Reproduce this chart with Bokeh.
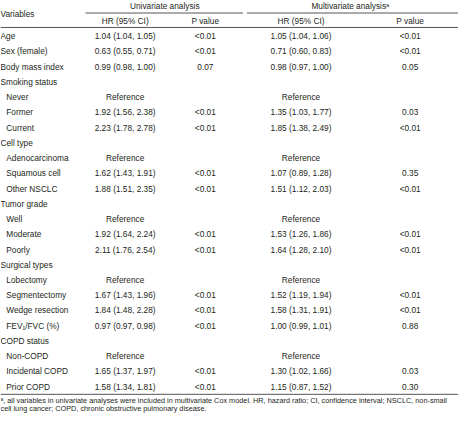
from bokeh.plotting import figure
from bokeh.models import ColumnDataSource
from bokeh.core.properties import value
from bokeh.embed import file_html
from bokeh.resources import INLINE

# ---- table data ----
variables = ["Age", "Sex (female)", "Body mass index", "Smoking status", "Never", "Former", "Current",
             "Cell type", "Adenocarcinoma", "Squamous cell", "Other NSCLC",
             "Tumor grade", "Well", "Moderate", "Poorly",
             "Surgical types", "Lobectomy", "Segmentectomy", "Wedge resection", "FEV\u2081/FVC (%)",
             "COPD status", "Non-COPD", "Incidental COPD", "Prior COPD"]
is_sub = [0, 0, 0, 0, 1, 1, 1,
          0, 1, 1, 1,
          0, 1, 1, 1,
          0, 1, 1, 1, 1,
          0, 1, 1, 1]
uni_hr = ["1.04 (1.04, 1.05)", "0.63 (0.55, 0.71)", "0.99 (0.98, 1.00)", "", "Reference",
          "1.92 (1.56, 2.38)", "2.23 (1.78, 2.78)",
          "", "Reference", "1.62 (1.43, 1.91)", "1.88 (1.51, 2.35)",
          "", "Reference", "1.92 (1.64, 2.24)", "2.11 (1.76, 2.54)",
          "", "Reference", "1.67 (1.43, 1.96)", "1.84 (1.48, 2.28)", "0.97 (0.97, 0.98)",
          "", "Reference", "1.65 (1.37, 1.97)", "1.58 (1.34, 1.81)"]
uni_p = ["<0.01", "<0.01", "0.07", "", "", "<0.01", "<0.01",
         "", "", "<0.01", "<0.01",
         "", "", "<0.01", "<0.01",
         "", "", "<0.01", "<0.01", "<0.01",
         "", "", "<0.01", "<0.01"]
multi_hr = ["1.05 (1.04, 1.06)", "0.71 (0.60, 0.83)", "0.98 (0.97, 1.00)", "", "Reference",
            "1.35 (1.03, 1.77)", "1.85 (1.38, 2.49)",
            "", "Reference", "1.07 (0.89, 1.28)", "1.51 (1.12, 2.03)",
            "", "Reference", "1.53 (1.26, 1.86)", "1.64 (1.28, 2.10)",
            "", "Reference", "1.52 (1.19, 1.94)", "1.58 (1.31, 1.91)", "1.00 (0.99, 1.01)",
            "", "Reference", "1.30 (1.02, 1.66)", "1.15 (0.87, 1.52)"]
multi_p = ["<0.01", "<0.01", "0.05", "", "", "0.03", "<0.01",
           "", "", "0.35", "<0.01",
           "", "", "<0.01", "<0.01",
           "", "", "<0.01", "<0.01", "0.88",
           "", "", "0.03", "0.30"]
group_headers = ["Univariate analysis", "Multivariate analysis\u1d43"]
col_headers = ["HR (95% CI)", "P value", "HR (95% CI)", "P value"]
header_var = "Variables"
footnote = ["\u1d43, all variables in univariate analyses were included in multivariate Cox model. HR, hazard ratio; CI, confidence interval; NSCLC, non-small",
            "cell lung cancer; COPD, chronic obstructive pulmonary disease."]

# ---- layout ----
W, H = 474, 431
FONT = value("Liberation Sans")
TXT = "#231f20"
FS = "8.3px"

p = figure(width=458, height=415, x_range=(0, W), y_range=(H, 0),
           output_backend="svg", toolbar_location=None, min_border=0)
p.axis.visible = False
p.grid.visible = False
p.outline_line_color = None
p.background_fill_color = "white"

y0, dy = 37.0, 15.83
ys = [y0 + i * dy for i in range(len(variables))]
xs_var = [6 if s else 0 for s in is_sub]

src = ColumnDataSource(dict(x=xs_var, y=ys, var=variables, uhr=uni_hr, up=uni_p,
                            mhr=multi_hr, mp=multi_p))
common = dict(text_font=FONT, text_font_size=FS, text_color=TXT, text_baseline="middle")
p.text(x="x", y="y", text="var", source=src, text_align="left", **common)
p.text(x=129, y="y", text="uhr", source=src, text_align="center", **common)
p.text(x=212, y="y", text="up", source=src, text_align="center", **common)
p.text(x=311, y="y", text="mhr", source=src, text_align="center", **common)
p.text(x=424, y="y", text="mp", source=src, text_align="center", **common)

# headers
p.text(x=[0], y=[14], text=[header_var], text_align="left", **common)
p.text(x=[170, 362], y=[6, 6], text=group_headers, text_align="center", **common)
p.text(x=[129, 212, 311, 424], y=[21.5] * 4, text=col_headers, text_align="center", **common)

# rules
p.segment(x0=[88, 255, 0, 0], y0=[13, 13, 28, 409], x1=[251, 474, 474, 474], y1=[13, 13, 28, 409],
          line_color="#555555", line_width=1)

# footnote
p.text(x=[0, 0], y=[415.5, 423.5], text=footnote, text_align="left",
       text_font=FONT, text_font_size="7.3px", text_color=TXT, text_baseline="middle")

open("out.html", "w").write(file_html(p, INLINE))
